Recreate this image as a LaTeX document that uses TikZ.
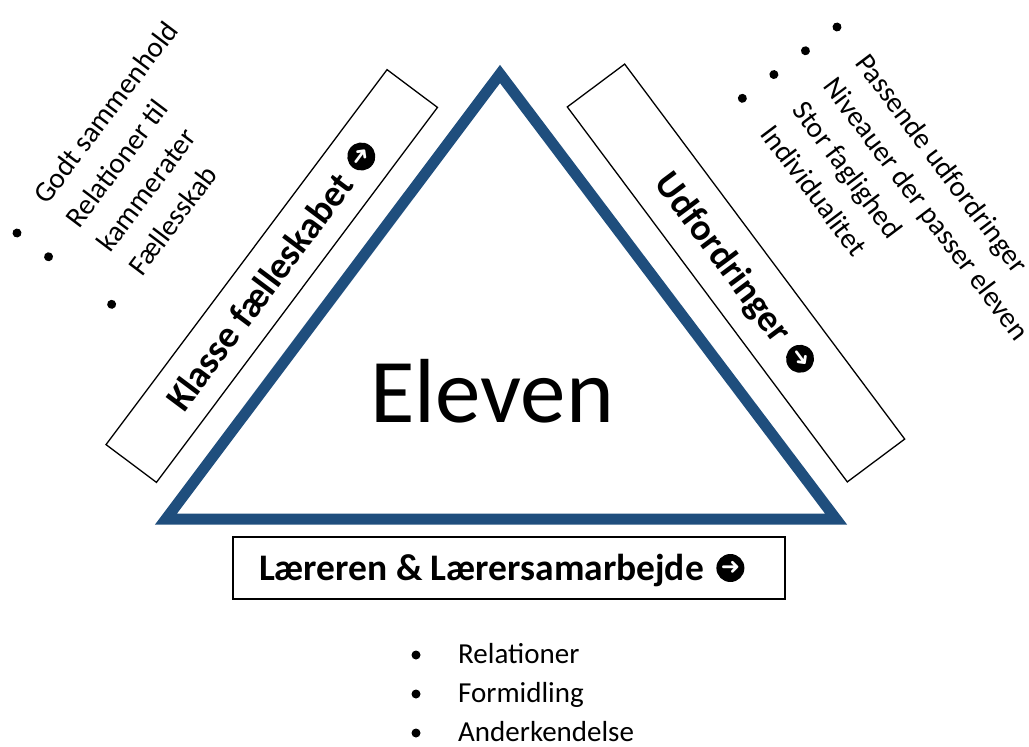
\documentclass[tikz,border=0pt]{standalone}
\usepackage{fontspec}
\setmainfont{Carlito}
\newfontfamily\symfont{DejaVu Sans}
\definecolor{triblue}{RGB}{31,78,125}
\begin{document}
\begin{tikzpicture}[x=1pt,y=-1pt,
  boxframe/.style={draw=black, line width=1.3pt, inner sep=0pt},
  boxtext/.style={inner sep=0pt, text height=25pt, text depth=0pt,
    font=\fontsize{37.5}{40}\selectfont\bfseries},
  symb/.style={circle, fill=black, text=white, minimum size=28pt, inner sep=0pt,
    anchor=west, font=\symfont\fontsize{23}{23}\selectfont},
  item/.style={anchor=base west, inner sep=0pt, font=\fontsize{29}{34}\selectfont},
  dot/.style={circle, fill=black, inner sep=0pt, minimum size=9pt}]
\useasboundingbox (0,0) rectangle (1029,747);
% triangle
\coordinate (apex) at (500,74);
\coordinate (br) at (836,519);
\coordinate (bl) at (166,519);
\draw[triblue, line width=11pt, line join=miter] (apex) -- (br) -- (bl) -- cycle;
\node[anchor=base, inner sep=0pt, font=\fontsize{91}{100}\selectfont] (eleven) at (492,422) {Eleven};
% left box
\begin{scope}[shift={(271.75,276)}, rotate=53.15, transform shape]
  \node[boxframe, minimum width=468.6pt, minimum height=63pt] (klasse) at (0,0) {};
  \node[boxtext] (klasseT) at (-14,0) {Klasse fælleskabet\hspace*{12pt}};
  \node[symb] (klasseS) at (klasseT.east) {➜};
\end{scope}
% right box
\begin{scope}[shift={(736,273)}, rotate=-53.25, transform shape]
  \node[boxframe, minimum width=468pt, minimum height=71.6pt] (udf) at (0,0) {};
  \node[boxtext] (udfT) at (-14,0) {Udfordringer\hspace*{12pt}};
  \node[symb] (udfS) at (udfT.east) {➜};
\end{scope}
% bottom box
\node[boxframe, minimum width=552pt, minimum height=62pt] (laerer) at (509,568) {};
\node[boxtext] (laererT) at (487.5,568) {Læreren \& Lærersamarbejde\hspace*{12pt}};
\node[symb] (laererS) at (laererT.east) {➜};
% left list
\begin{scope}[shift={(17,233)}, rotate=53, transform shape]
  \node[dot] (lb1) at (0,0) {};
  \node[dot] (lb2) at (0,39.5) {};
  \node[dot] (lb3) at (0,118.5) {};
  \node[item] (lt1) at (40,8) {Godt sammenhold};
  \node[item] (lt2) at (40,47.5) {Relationer til};
  \node[item] (lt3) at (40,87) {kammerater};
  \node[item] (lt4) at (40,126.5) {Fællesskab};
\end{scope}
% right list
\begin{scope}[shift={(837,27)}, rotate=-53, transform shape]
  \node[dot] (rb1) at (0,0) {};
  \node[dot] (rb2) at (0,39.5) {};
  \node[dot] (rb3) at (0,79) {};
  \node[dot] (rb4) at (0,118.5) {};
  \node[item] (rt1) at (39,8) {Passende udfordringer};
  \node[item] (rt2) at (39,47.5) {Niveauer der passer eleven};
  \node[item] (rt3) at (39,87) {Stor faglighed};
  \node[item] (rt4) at (39,126.5) {Individualitet};
\end{scope}
% bottom list
\node[dot] (bb1) at (416,655) {};
\node[dot] (bb2) at (416,694) {};
\node[dot] (bb3) at (416,733) {};
\node[item] (bt1) at (458,663) {Relationer};
\node[item] (bt2) at (458,702) {Formidling};
\node[item] (bt3) at (458,741) {Anderkendelse};
\end{tikzpicture}
\end{document}
